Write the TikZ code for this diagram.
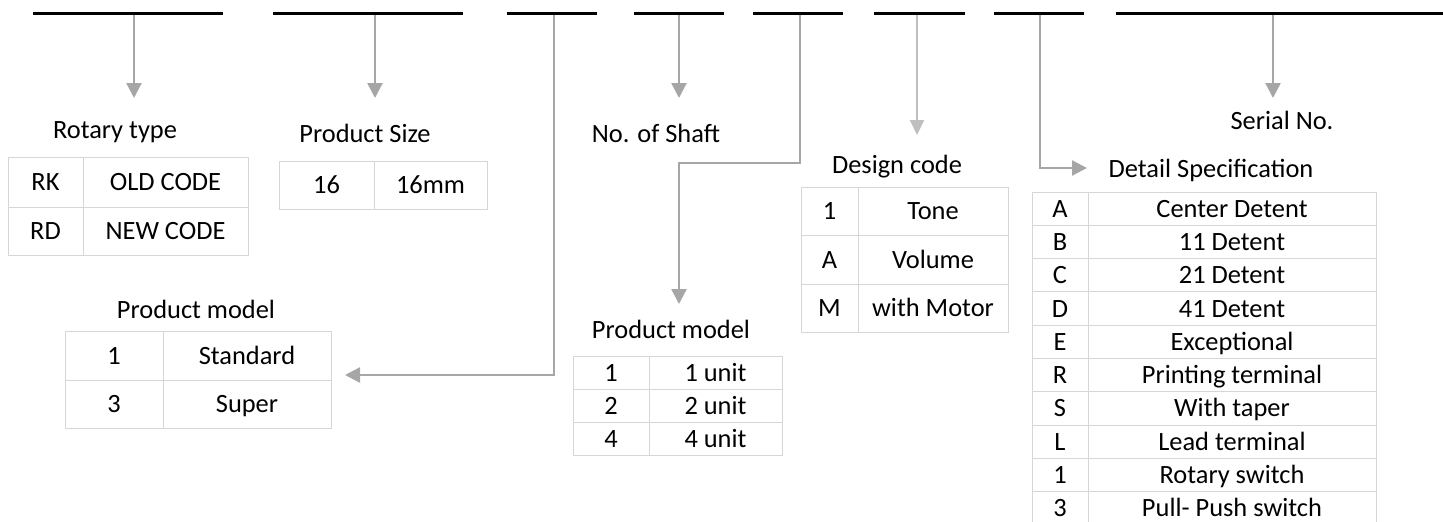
\documentclass[tikz,border=0pt]{standalone}
\usepackage{fontspec}
\setmainfont{Carlito}
\usetikzlibrary{arrows.meta}
\definecolor{arrowgray}{HTML}{A6A6A6}
\definecolor{lightarrow}{HTML}{BFBFBF}
\definecolor{cellgray}{HTML}{D6D6D6}
\newcommand\diagfont{\fontsize{26.4}{31}\selectfont}
\begin{document}
\begin{tikzpicture}[x=1pt,y=-1pt,
  bar/.style={line width=3.8pt,black},
  conn/.style={draw=arrowgray,line width=2.4pt,-{Triangle[width=15pt,length=15pt]}},
  lightconn/.style={draw=lightarrow,line width=2pt,-{Triangle[width=14pt,length=15pt]}},
  title/.style={anchor=base,font=\diagfont,inner sep=0pt},
  cell/.style={draw=cellgray,line width=1pt,inner sep=0pt,outer sep=0pt,anchor=north west,
    font=\diagfont,text height=17pt,text depth=0pt}]
\useasboundingbox (0,0) rectangle (1443,522);

% arrow coordinates
\coordinate (a1s) at (134,13.5);  \coordinate (a1e) at (134,98);
\coordinate (a2s) at (375,13.5);  \coordinate (a2e) at (375,98);
\coordinate (a3s) at (554,13.5);  \coordinate (a3e) at (345,375);
\coordinate (a4s) at (679,13.5);  \coordinate (a4e) at (679,98);
\coordinate (a5s) at (800,13.5);  \coordinate (a5m) at (679,163); \coordinate (a5e) at (679,304);
\coordinate (a6s) at (917,13.5);  \coordinate (a6e) at (917,135);
\coordinate (a7s) at (1040,13.5); \coordinate (a7e) at (1087,168);
\coordinate (a8s) at (1273,13.5); \coordinate (a8e) at (1273,98);

\draw[conn] (a1s) -- (a1e);
\draw[conn] (a2s) -- (a2e);
\draw[conn] (a3s) |- (a3e);
\draw[conn] (a4s) -- (a4e);
\draw[conn] (a5s) |- (a5m) -- (a5e);
\draw[lightconn] (a6s) -- (a6e);
\draw[conn] (a7s) |- (a7e);
\draw[conn] (a8s) -- (a8e);

% bars
\coordinate (b1l) at (33,13.5);   \coordinate (b1r) at (223,13.5);
\coordinate (b2l) at (273,13.5);  \coordinate (b2r) at (463,13.5);
\coordinate (b3l) at (507,13.5);  \coordinate (b3r) at (597,13.5);
\coordinate (b4l) at (634,13.5);  \coordinate (b4r) at (724,13.5);
\coordinate (b5l) at (753,13.5);  \coordinate (b5r) at (843,13.5);
\coordinate (b6l) at (874,13.5);  \coordinate (b6r) at (965,13.5);
\coordinate (b7l) at (994,13.5);  \coordinate (b7r) at (1084,13.5);
\coordinate (b8l) at (1116,13.5); \coordinate (b8r) at (1443,13.5);
\foreach \b in {1,...,8} {\draw[bar] (b\b l) -- (b\b r);}

% titles
\node[title] (trot) at (115,138) {Rotary type};
\node[title] (tsize) at (365,142) {Product Size};
\node[title] (tshaft) at (656,142) {No. of Shaft};
\node[title] (tdesign) at (897,173) {Design code};
\node[title] (tserial) at (1282,129) {Serial No.};
\node[title] (tdetail) at (1211,177) {Detail Specification};
\node[title] (tmodelA) at (196,318) {Product model};
\node[title] (tmodelB) at (671,338) {Product model};

% Rotary type table
\node[cell,minimum width=75pt,minimum height=50pt] (r1a) at (8,157) {RK};
\node[cell,minimum width=165pt,minimum height=50pt] (r1b) at (83,157) {OLD CODE};
\node[cell,minimum width=75pt,minimum height=48pt] (r2a) at (8,207) {RD};
\node[cell,minimum width=165pt,minimum height=48pt] (r2b) at (83,207) {NEW CODE};

% Product size table
\node[cell,minimum width=95pt,minimum height=48pt] (s1a) at (279,161) {16};
\node[cell,minimum width=113pt,minimum height=48pt] (s1b) at (374,161) {16mm};

% Product model (left)
\node[cell,minimum width=98pt,minimum height=49pt] (m1a) at (65,331) {1};
\node[cell,minimum width=168pt,minimum height=49pt] (m1b) at (163,331) {Standard};
\node[cell,minimum width=98pt,minimum height=48pt] (m2a) at (65,380) {3};
\node[cell,minimum width=168pt,minimum height=48pt] (m2b) at (163,380) {Super};

% Product model (middle)
\foreach \k/\v [count=\i from 0] in {1/1 unit,2/2 unit,4/4 unit} {
  \node[cell,minimum width=76pt,minimum height=33pt] (ua\i) at (573,356+33*\i) {\k};
  \node[cell,minimum width=133pt,minimum height=33pt] (ub\i) at (649,356+33*\i) {\v};
}

% Design code
\node[cell,minimum width=57pt,minimum height=48pt] (d1a) at (801,187) {1};
\node[cell,minimum width=150pt,minimum height=48pt] (d1b) at (858,187) {Tone};
\node[cell,minimum width=57pt,minimum height=49pt] (d2a) at (801,235) {A};
\node[cell,minimum width=150pt,minimum height=49pt] (d2b) at (858,235) {Volume};
\node[cell,minimum width=57pt,minimum height=48pt] (d3a) at (801,284) {M};
\node[cell,minimum width=150pt,minimum height=48pt] (d3b) at (858,284) {with Motor};

% Detail specification
\foreach \k/\v [count=\i from 0] in {A/Center Detent,B/11 Detent,C/21 Detent,D/41 Detent,E/Exceptional,R/Printing terminal,S/With taper,L/Lead terminal,1/Rotary switch,3/Pull- Push switch} {
  \node[cell,minimum width=56pt,minimum height=33.3pt] (xa\i) at (1032,192+33.3*\i) {\k};
  \node[cell,minimum width=288pt,minimum height=33.3pt] (xb\i) at (1088,192+33.3*\i) {\v};
}
\end{tikzpicture}
\end{document}
